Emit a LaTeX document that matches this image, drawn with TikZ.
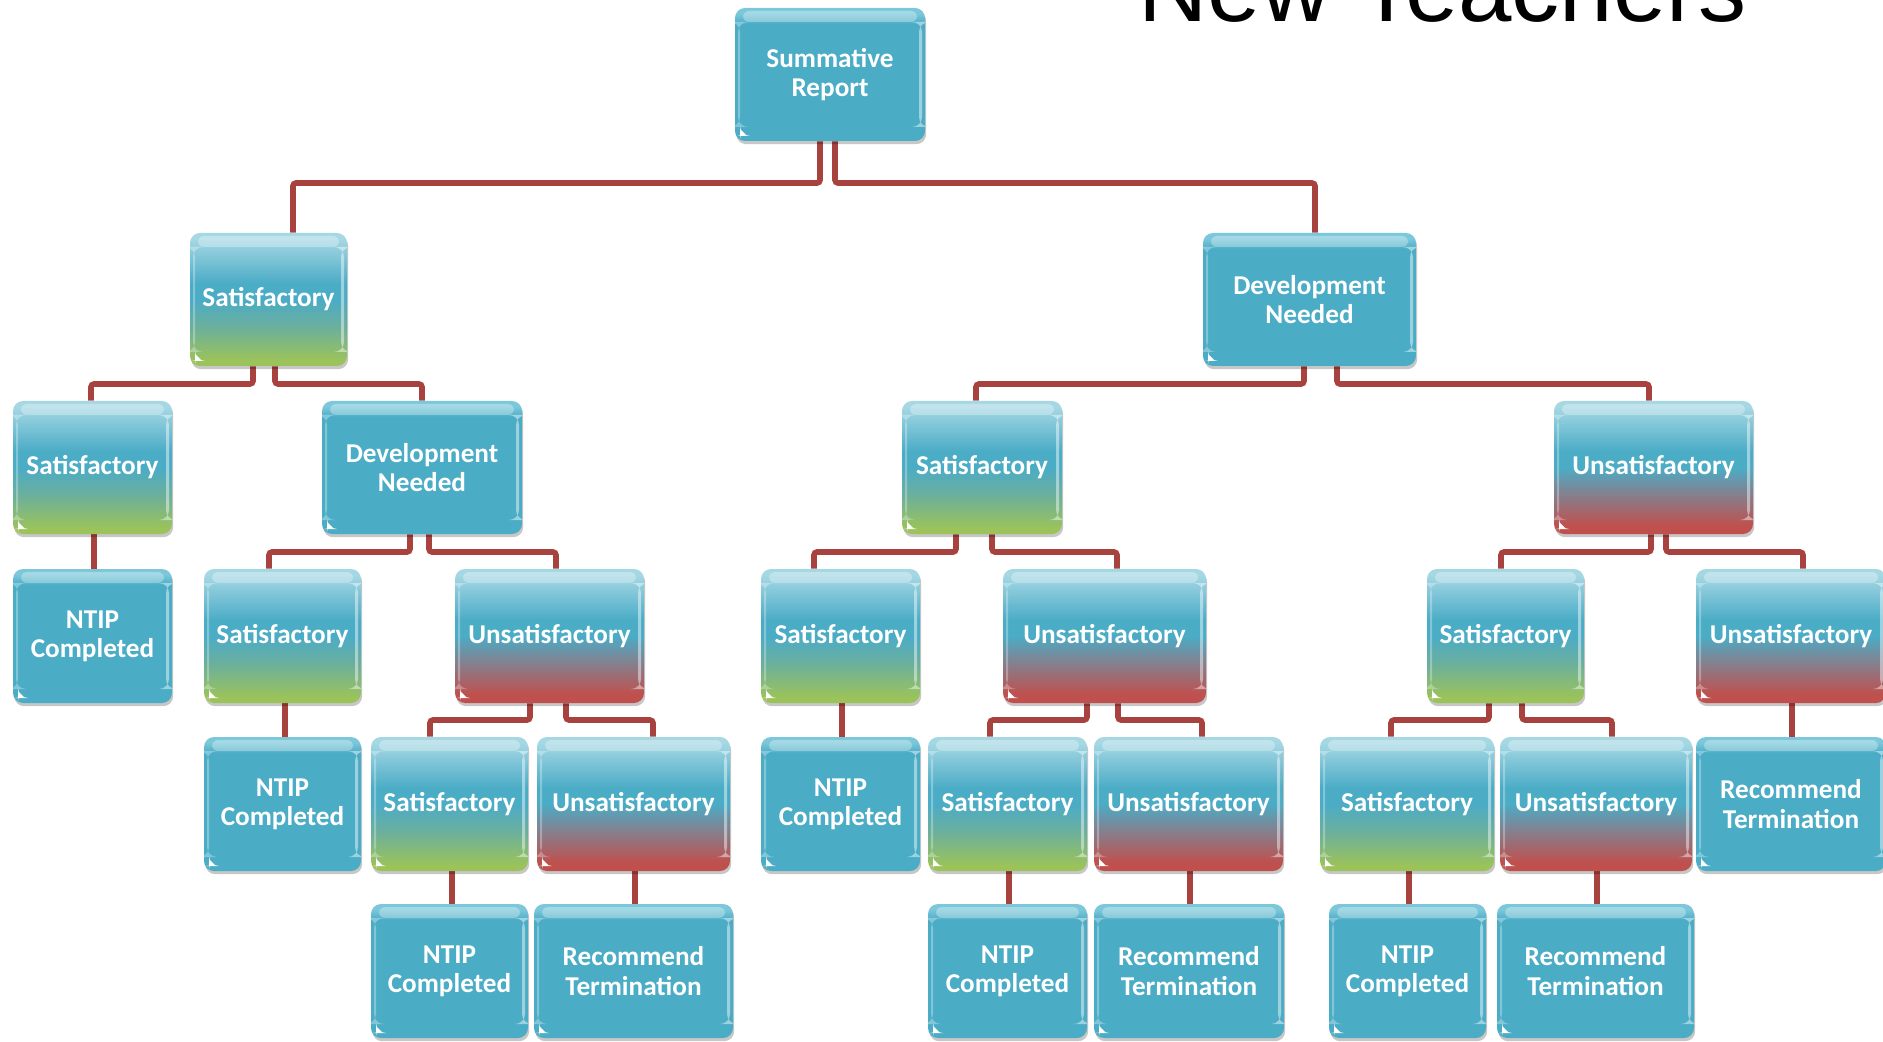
\documentclass[tikz,border=0pt]{standalone}
\usepackage{fontspec}
\setmainfont{Carlito}
\newfontfamily\titlefont{Liberation Sans}
\usetikzlibrary{shadows,backgrounds}
\definecolor{aq}{HTML}{4BACC6}
\definecolor{aqlt}{HTML}{A6D8E4}
\definecolor{aqtop}{HTML}{7CC8DA}
\definecolor{grn}{HTML}{9BC35A}
\definecolor{grnmid}{HTML}{6AAF9E}
\definecolor{rd}{HTML}{C0504D}
\definecolor{rdmid}{HTML}{84808E}
\definecolor{conncol}{HTML}{A8423F}
\pgfdeclareverticalshading{satsh}{100bp}{color(0bp)=(grn); color(27bp)=(grn); color(40bp)=(grnmid); color(50bp)=(aq); color(56bp)=(aq); color(73bp)=(aqlt); color(100bp)=(aqlt)}
\pgfdeclareverticalshading{unssh}{100bp}{color(0bp)=(rd); color(28bp)=(rd); color(40bp)=(rdmid); color(50bp)=(aq); color(56bp)=(aq); color(73bp)=(aqlt); color(100bp)=(aqlt)}
\pgfdeclareverticalshading{blush}{100bp}{color(0bp)=(aq); color(69bp)=(aq); color(73bp)=(aqtop); color(100bp)=(aqtop)}
\newcommand\glossy{%
  \fill[white,opacity=0.3,rounded corners=3pt] ([xshift=4pt,yshift=-1.5pt]path picture bounding box.north west) rectangle ([xshift=-4pt,yshift=-7pt]path picture bounding box.north east);
  \fill[white,opacity=0.45] ([xshift=-3pt,yshift=-7pt]path picture bounding box.north east) rectangle ([xshift=-1.5pt,yshift=7pt]path picture bounding box.south east);
  \fill[white,opacity=0.3] ([xshift=1.5pt,yshift=-7pt]path picture bounding box.north west) rectangle ([xshift=2.5pt,yshift=7pt]path picture bounding box.south west);
  \fill[white] ([xshift=2.5pt,yshift=2.5pt]path picture bounding box.south west) -- ++(3.5pt,0) -- ++(-3.5pt,3.5pt) -- cycle;%
}
\tikzset{
  box/.style={rounded corners=5pt, text=white, align=center, inner sep=0pt,
    font=\fontsize{13.6}{14.6}\selectfont\bfseries,
    drop shadow={shadow xshift=0.6pt, shadow yshift=-1.6pt, opacity=0.22, fill=black},
    path picture={\glossy}},
  satbox/.style={box, shading=satsh},
  unsbox/.style={box, shading=unssh},
  blubox/.style={box, shading=blush},
  conn/.style={draw=conncol, line width=2.8pt, rounded corners=1.5pt},
}
\newcommand\bx[7]{\node[#2, minimum width={(#5-#3)*0.5pt}, minimum height={(#6-#4)*0.5pt}] (#1) at ({(#3+#5)/2},{(#4+#6)/2}) {#7};}
\newcommand\br[5]{\draw[conn] (#1.south -| #2,0) |- (#5,#3) -- (#4.north -| #5,0);}
\newcommand\stm[3]{\draw[conn] (#1.south -| #2,0) -- (#3.north -| #2,0);}
\begin{document}
\begin{tikzpicture}[x=0.5pt,y=-0.5pt]
\useasboundingbox (0,0) rectangle (1883,1042);
\clip (0,0) rectangle (1883,1042);
\node[anchor=base west, inner sep=0pt, font=\titlefont\fontsize{48}{52}\selectfont] (title) at (1138,22) {New Teachers};
% level 0
\bx{SR}{blubox}{735}{8}{925}{141}{Summative\\Report}
% level 1
\bx{S1}{satbox}{190}{233}{347}{366}{Satisfactory}
\bx{D1}{blubox}{1203}{233}{1416}{366}{Development\\Needed}
% level 2
\bx{S2a}{satbox}{13}{401}{172}{534}{Satisfactory}
\bx{D2}{blubox}{322}{401}{522}{534}{Development\\Needed}
\bx{S2b}{satbox}{902}{401}{1062}{534}{Satisfactory}
\bx{U2}{unsbox}{1554}{401}{1753}{534}{Unsatisfactory}
% level 3
\bx{N3}{blubox}{13}{569}{172}{703}{NTIP\\Completed}
\bx{S3a}{satbox}{204}{569}{361}{703}{Satisfactory}
\bx{U3a}{unsbox}{455}{569}{644}{703}{Unsatisfactory}
\bx{S3b}{satbox}{761}{569}{920}{703}{Satisfactory}
\bx{U3b}{unsbox}{1003}{569}{1206}{703}{Unsatisfactory}
\bx{S3c}{satbox}{1427}{569}{1584}{703}{Satisfactory}
\bx{U3c}{unsbox}{1696}{569}{1886}{703}{Unsatisfactory}
% level 4
\bx{N4a}{blubox}{204}{737}{361}{871}{NTIP\\Completed}
\bx{S4a}{satbox}{371}{737}{528}{871}{Satisfactory}
\bx{U4a}{unsbox}{537}{737}{730}{871}{Unsatisfactory}
\bx{N4b}{blubox}{761}{737}{920}{871}{NTIP\\Completed}
\bx{S4b}{satbox}{928}{737}{1087}{871}{Satisfactory}
\bx{U4b}{unsbox}{1094}{737}{1283}{871}{Unsatisfactory}
\bx{S4c}{satbox}{1320}{737}{1494}{871}{Satisfactory}
\bx{U4c}{unsbox}{1500}{737}{1692}{871}{Unsatisfactory}
\bx{R4}{blubox}{1696}{737}{1886}{871}{Recommend\\Termination}
% level 5
\bx{N5a}{blubox}{371}{904}{528}{1038}{NTIP\\Completed}
\bx{R5a}{blubox}{534}{904}{733}{1038}{Recommend\\Termination}
\bx{N5b}{blubox}{928}{904}{1087}{1038}{NTIP\\Completed}
\bx{R5b}{blubox}{1094}{904}{1284}{1038}{Recommend\\Termination}
\bx{N5c}{blubox}{1329}{904}{1486}{1038}{NTIP\\Completed}
\bx{R5c}{blubox}{1497}{904}{1694}{1038}{Recommend\\Termination}
\begin{pgfonlayer}{background}
\br{SR}{820}{183}{S1}{293}
\br{SR}{835}{183}{D1}{1315}
\br{S1}{253}{384}{S2a}{91}
\br{S1}{275}{384}{D2}{422}
\br{D1}{1304}{384}{S2b}{976}
\br{D1}{1337}{384}{U2}{1649}
\stm{S2a}{94}{N3}
\br{D2}{410}{552}{S3a}{269}
\br{D2}{429}{552}{U3a}{556}
\br{S2b}{956}{552}{S3b}{814}
\br{S2b}{992}{552}{U3b}{1117}
\br{U2}{1651}{552}{S3c}{1501}
\br{U2}{1666}{552}{U3c}{1803}
\stm{S3a}{285}{N4a}
\br{U3a}{530}{720}{S4a}{430}
\br{U3a}{566}{720}{U4a}{653}
\stm{S3b}{842}{N4b}
\br{U3b}{1087}{720}{S4b}{990}
\br{U3b}{1118}{720}{U4b}{1202}
\br{S3c}{1489}{720}{S4c}{1391}
\br{S3c}{1522}{720}{U4c}{1612}
\stm{U3c}{1792}{R4}
\stm{S4a}{452}{N5a}
\stm{U4a}{635}{R5a}
\stm{S4b}{1009}{N5b}
\stm{U4b}{1190}{R5b}
\stm{S4c}{1409}{N5c}
\stm{U4c}{1597}{R5c}
\end{pgfonlayer}
\end{tikzpicture}
\end{document}
